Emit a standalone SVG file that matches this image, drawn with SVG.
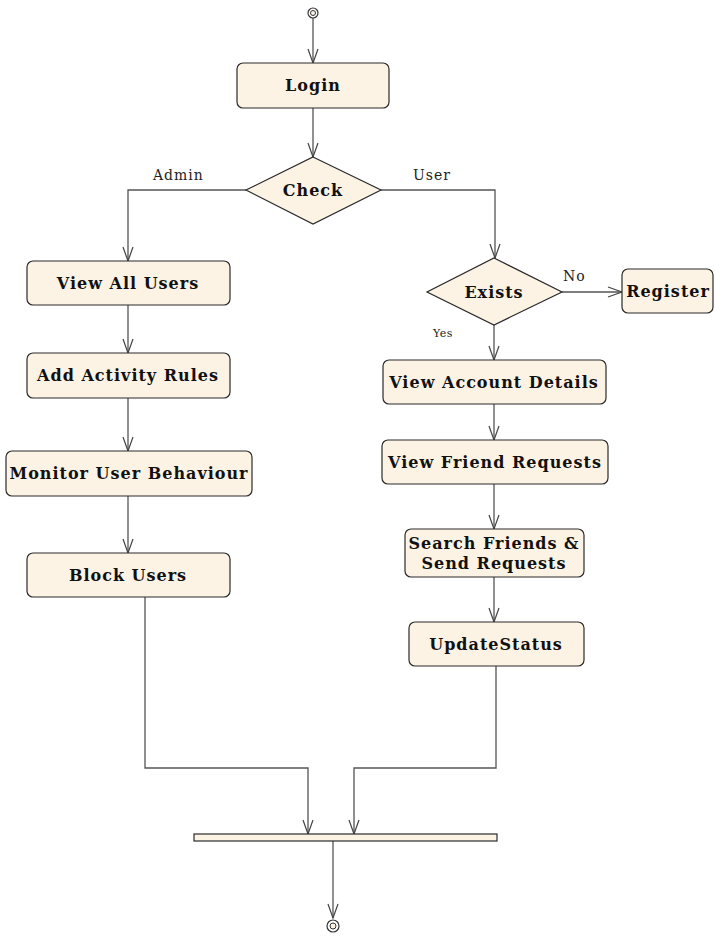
<svg xmlns="http://www.w3.org/2000/svg" width="715" height="936" viewBox="0 0 715 936">
<style>
.box{fill:#fcf3e5;stroke:#2a2a2a;stroke-width:1.2}
.t{font-family:"DejaVu Serif","Liberation Serif",serif;font-weight:bold;font-size:16px;letter-spacing:1px;fill:#111;text-anchor:middle}
.l{font-family:"DejaVu Serif","Liberation Serif",serif;font-size:14px;letter-spacing:1px;fill:#222}
.c{fill:none;stroke:#555;stroke-width:1.3}
</style>
<defs>
<marker id="a" markerWidth="16" markerHeight="12" refX="15" refY="6" orient="auto" markerUnits="userSpaceOnUse" viewBox="0 0 16 12">
<path d="M1,1 L15,6 L1,11" fill="none" stroke="#444" stroke-width="1.2"/>
</marker>
</defs>
<rect width="715" height="936" fill="#fff"/>
<g id="connectors">
<path class="c" d="M313,18 V63" marker-end="url(#a)"/>
<path class="c" d="M313,108 V157" marker-end="url(#a)"/>
<path class="c" d="M246,190 H128 V261" marker-end="url(#a)"/>
<path class="c" d="M381,190 H495 V258" marker-end="url(#a)"/>
<path class="c" d="M562,292 H622" marker-end="url(#a)"/>
<path class="c" d="M494,325 V360" marker-end="url(#a)"/>
<path class="c" d="M494,404 V440" marker-end="url(#a)"/>
<path class="c" d="M494,484 V529" marker-end="url(#a)"/>
<path class="c" d="M494,577 V622" marker-end="url(#a)"/>
<path class="c" d="M128,305 V353" marker-end="url(#a)"/>
<path class="c" d="M128,398 V451" marker-end="url(#a)"/>
<path class="c" d="M128,496 V553" marker-end="url(#a)"/>
<path class="c" d="M145,597 V768 H308 V834" marker-end="url(#a)"/>
<path class="c" d="M496,666 V768 H354 V834" marker-end="url(#a)"/>
<path class="c" d="M333,841 V918" marker-end="url(#a)"/>
<text class="l" x="153" y="180">Admin</text>
<text class="l" x="413" y="180">User</text>
<text class="l" x="563" y="281">No</text>
<text class="l" x="433" y="337" style="font-size:11px;letter-spacing:0.5px">Yes</text>
</g>
<g id="start">
<circle cx="313" cy="13" r="5" fill="#fff" stroke="#333" stroke-width="1.2"/>
<circle cx="313" cy="13" r="2.5" fill="#fcf3e5" stroke="#333" stroke-width="1"/>
</g>
<g id="login">
<rect class="box" x="237" y="63" width="152" height="45" rx="6"/>
<text class="t" x="313" y="91">Login</text>
</g>
<g id="check">
<polygon class="box" points="313,157 381,190 313,224 246,190"/>
<text class="t" x="313" y="196">Check</text>
</g>
<g id="viewAllUsers">
<rect class="box" x="27" y="261" width="203" height="44" rx="6"/>
<text class="t" x="128" y="289">View All Users</text>
</g>
<g id="addActivityRules">
<rect class="box" x="27" y="353" width="203" height="45" rx="6"/>
<text class="t" x="128" y="381">Add Activity Rules</text>
</g>
<g id="monitor">
<rect class="box" x="6" y="451" width="246" height="45" rx="6"/>
<text class="t" x="129" y="479">Monitor User Behaviour</text>
</g>
<g id="blockUsers">
<rect class="box" x="27" y="553" width="203" height="44" rx="6"/>
<text class="t" x="128" y="581">Block Users</text>
</g>
<g id="exists">
<polygon class="box" points="494,258 562,292 494,325 427,292"/>
<text class="t" x="494" y="298">Exists</text>
</g>
<g id="register">
<rect class="box" x="622" y="269" width="91" height="44" rx="6"/>
<text class="t" x="668" y="297">Register</text>
</g>
<g id="viewAccount">
<rect class="box" x="383" y="360" width="223" height="44" rx="6"/>
<text class="t" x="494" y="388">View Account Details</text>
</g>
<g id="viewFriend">
<rect class="box" x="382" y="440" width="226" height="44" rx="6"/>
<text class="t" x="495" y="468">View Friend Requests</text>
</g>
<g id="search">
<rect class="box" x="405" y="529" width="179" height="48" rx="6"/>
<text class="t" x="494" y="549">Search Friends &amp;</text>
<text class="t" x="494" y="569">Send Requests</text>
</g>
<g id="updateStatus">
<rect class="box" x="409" y="622" width="175" height="44" rx="6"/>
<text class="t" x="496" y="650">UpdateStatus</text>
</g>
<g id="join">
<rect class="box" x="194" y="834" width="303" height="7"/>
</g>
<g id="end">
<circle cx="333" cy="926" r="6" fill="#fff" stroke="#333" stroke-width="1.2"/>
<circle cx="333" cy="926" r="3" fill="#fcf3e5" stroke="#333" stroke-width="1"/>
</g>
</svg>
